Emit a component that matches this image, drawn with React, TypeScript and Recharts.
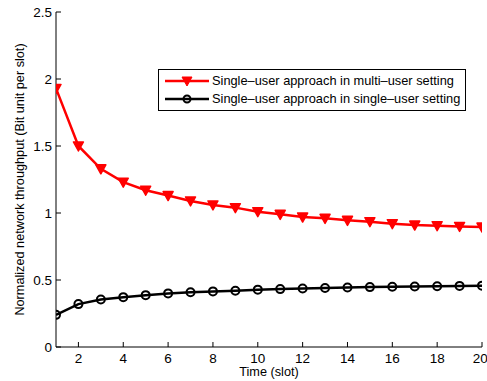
import { LineChart, Line, XAxis, YAxis, Legend } from 'recharts'

const slots = [1, 2, 3, 4, 5, 6, 7, 8, 9, 10, 11, 12, 13, 14, 15, 16, 17, 18, 19, 20]
const multiUser = [1.93, 1.5, 1.33, 1.23, 1.17, 1.13, 1.09, 1.06, 1.04, 1.01, 0.99, 0.97, 0.96, 0.945, 0.935, 0.92, 0.91, 0.905, 0.9, 0.895]
const singleUser = [0.24, 0.32, 0.355, 0.372, 0.387, 0.4, 0.408, 0.415, 0.42, 0.428, 0.432, 0.436, 0.44, 0.444, 0.447, 0.45, 0.452, 0.454, 0.456, 0.458]
const xTicks = [2, 4, 6, 8, 10, 12, 14, 16, 18, 20]
const yTicks = [0, 0.5, 1, 1.5, 2, 2.5]

const seriesNames = {
  multi: 'Single–user approach in multi–user setting',
  single: 'Single–user approach in single–user setting',
}

const data = slots.map((t, i) => ({ t, multi: multiUser[i], single: singleUser[i] }))

const FONT = '"Liberation Sans", Arial, Helvetica, sans-serif'

const triangle = (props: any) => {
  const { cx, cy, index } = props
  if (cx == null || cy == null) return <g key={`tri-${index}`} />
  return (
    <polygon
      key={`tri-${index}`}
      points={`${cx - 5},${cy - 4} ${cx + 5},${cy - 4} ${cx},${cy + 5}`}
      fill="#ff0000"
      stroke="#ff0000"
      strokeWidth={1.5}
      strokeLinejoin="round"
    />
  )
}

const circle = (props: any) => {
  const { cx, cy, index } = props
  if (cx == null || cy == null) return <g key={`cir-${index}`} />
  return <circle key={`cir-${index}`} cx={cx} cy={cy} r={4} fill="none" stroke="#000" strokeWidth={2} />
}

const YLabel = (props: any) => {
  const vb = props.viewBox || {}
  const cy = vb.y + vb.height / 2
  return (
    <text x={20} y={cy} transform={`rotate(-90, 20, ${cy})`} textAnchor="middle"
      dominantBaseline="central" fontSize={12.7} fontFamily={FONT} fill="#000">
      Normalized network throughput (Bit unit per slot)
    </text>
  )
}

const renderLegend = () => (
  <div style={{
    border: '1px solid #000', background: '#fff', padding: '2px 5px 2px 6px',
    fontFamily: FONT, fontSize: 12.8, lineHeight: '18px', color: '#000', whiteSpace: 'nowrap',
  }}>
    <div style={{ display: 'flex', alignItems: 'center' }}>
      <svg width={44} height={12} style={{ marginRight: 3 }}>
        <line x1={0} y1={6} x2={44} y2={6} stroke="#ff0000" strokeWidth={2.5} />
        <polygon points="17,2 27,2 22,11" fill="#ff0000" stroke="#ff0000" strokeWidth={1} />
      </svg>
      {seriesNames.multi}
    </div>
    <div style={{ display: 'flex', alignItems: 'center' }}>
      <svg width={44} height={12} style={{ marginRight: 3 }}>
        <line x1={0} y1={6} x2={44} y2={6} stroke="#000" strokeWidth={2.5} />
        <circle cx={22} cy={6} r={3.5} fill="none" stroke="#000" strokeWidth={2} />
      </svg>
      {seriesNames.single}
    </div>
  </div>
)

export default function App() {
  const tickStyle = { fontSize: 13.5, fill: '#000', fontFamily: FONT }
  return (
    <div style={{ position: 'absolute', left: 0, top: 0, width: 487, height: 381, background: '#fff', overflow: 'hidden' }}>
      <LineChart width={487} height={381} data={data} margin={{ top: 12, right: 5, left: 0, bottom: 0 }}>
        <XAxis
          xAxisId="bottom"
          dataKey="t"
          type="number"
          domain={[1, 20]}
          ticks={xTicks}
          allowDataOverflow
          height={34}
          tick={tickStyle}
          tickSize={-5}
          tickMargin={11}
          stroke="#000"
          axisLine={{ stroke: '#000', strokeWidth: 1 }}
          tickLine={{ stroke: '#000' }}
          label={{ value: 'Time (slot)', position: 'insideBottom', offset: 5, fontSize: 12.7, fontFamily: FONT, fill: '#000' }}
        />
        <XAxis
          xAxisId="top"
          orientation="top"
          dataKey="t"
          type="number"
          domain={[1, 20]}
          ticks={xTicks}
          allowDataOverflow
          height={0}
          tickSize={-5}
          tickFormatter={() => ''}
          stroke="#000"
        />
        <YAxis
          yAxisId="left"
          type="number"
          domain={[0, 2.5]}
          ticks={yTicks}
          width={56}
          tick={tickStyle}
          tickSize={-5}
          tickMargin={9}
          stroke="#000"
          label={<YLabel />}
        />
        <YAxis
          yAxisId="right"
          orientation="right"
          type="number"
          domain={[0, 2.5]}
          ticks={yTicks}
          width={0}
          tickSize={-5}
          tickFormatter={() => ''}
          stroke="#000"
        />
        <Legend
          layout="horizontal"
          verticalAlign="middle"
          align="center"
          content={renderLegend}
          wrapperStyle={{ position: 'absolute', left: 158, top: 69, width: 'auto' }}
        />
        <Line
          xAxisId="bottom"
          yAxisId="left"
          dataKey="multi"
          name={seriesNames.multi}
          stroke="#ff0000"
          strokeWidth={2.5}
          dot={triangle}
          isAnimationActive={false}
        />
        <Line
          xAxisId="bottom"
          yAxisId="left"
          dataKey="single"
          name={seriesNames.single}
          stroke="#000"
          strokeWidth={2.5}
          dot={circle}
          isAnimationActive={false}
        />
      </LineChart>
    </div>
  )
}
